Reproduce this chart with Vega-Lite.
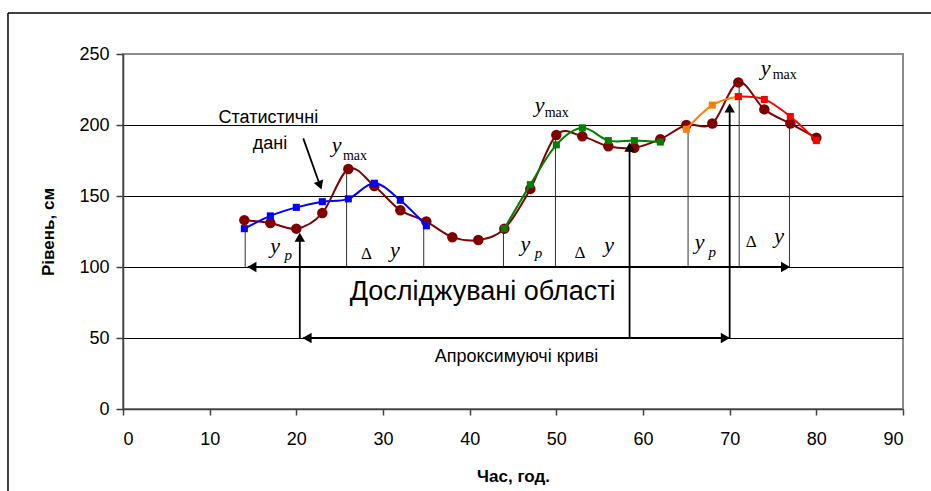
{
  "$schema": "https://vega.github.io/schema/vega-lite/v6.json",
  "width": 780,
  "height": 355,
  "autosize": {"type": "none"},
  "padding": {"left": 123, "top": 54, "right": 28, "bottom": 82},
  "background": "white",
  "config": {"view": {"stroke": "#8c8c8c", "strokeWidth": 2}, "font": "Liberation Sans"},
  "datasets": {
    "series": [
      {"x": 14, "y": 133, "s": "stat"}, {"x": 17, "y": 131, "s": "stat"}, {"x": 20, "y": 127, "s": "stat"},
      {"x": 23, "y": 138, "s": "stat"}, {"x": 26, "y": 169, "s": "stat"}, {"x": 29, "y": 157, "s": "stat"},
      {"x": 32, "y": 140, "s": "stat"}, {"x": 35, "y": 132, "s": "stat"}, {"x": 38, "y": 121, "s": "stat"},
      {"x": 41, "y": 119, "s": "stat"}, {"x": 44, "y": 127, "s": "stat"}, {"x": 47, "y": 155, "s": "stat"},
      {"x": 50, "y": 193, "s": "stat"}, {"x": 53, "y": 192, "s": "stat"}, {"x": 56, "y": 185, "s": "stat"},
      {"x": 59, "y": 184, "s": "stat"}, {"x": 62, "y": 190, "s": "stat"}, {"x": 65, "y": 200, "s": "stat"},
      {"x": 68, "y": 201, "s": "stat"}, {"x": 71, "y": 230, "s": "stat"}, {"x": 74, "y": 211, "s": "stat"},
      {"x": 77, "y": 201, "s": "stat"}, {"x": 80, "y": 191, "s": "stat"},
      {"x": 14, "y": 127, "s": "blue"}, {"x": 17, "y": 136, "s": "blue"}, {"x": 20, "y": 142, "s": "blue"},
      {"x": 23, "y": 146, "s": "blue"}, {"x": 26, "y": 148, "s": "blue"}, {"x": 29, "y": 159, "s": "blue"},
      {"x": 32, "y": 147, "s": "blue"}, {"x": 35, "y": 129, "s": "blue"},
      {"x": 44, "y": 127, "s": "green"}, {"x": 47, "y": 158, "s": "green"}, {"x": 50, "y": 186, "s": "green"},
      {"x": 53, "y": 198, "s": "green"}, {"x": 56, "y": 189, "s": "green"}, {"x": 59, "y": 189, "s": "green"},
      {"x": 62, "y": 188, "s": "green"},
      {"x": 65, "y": 197, "s": "orange"}, {"x": 68, "y": 214, "s": "orange"}, {"x": 71, "y": 220, "s": "orange"},
      {"x": 71, "y": 220, "s": "red"}, {"x": 74, "y": 218, "s": "red"}, {"x": 77, "y": 206, "s": "red"},
      {"x": 80, "y": 189, "s": "red"}
    ],
    "thin": [
      {"x": 14.1, "y": 127, "x2": 14.1, "y2": 100},
      {"x": 25.8, "y": 169, "x2": 25.8, "y2": 100},
      {"x": 34.7, "y": 130, "x2": 34.7, "y2": 100},
      {"x": 43.9, "y": 127, "x2": 43.9, "y2": 100},
      {"x": 49.9, "y": 193, "x2": 49.9, "y2": 100},
      {"x": 65.2, "y": 200, "x2": 65.2, "y2": 100},
      {"x": 71.1, "y": 230, "x2": 71.1, "y2": 100},
      {"x": 76.9, "y": 201, "x2": 76.9, "y2": 100}
    ],
    "shafts": [
      {"x": 14.4, "y": 100, "x2": 76.8, "y2": 100},
      {"x": 20.8, "y": 50, "x2": 69.9, "y2": 50},
      {"x": 20.4, "y": 50, "x2": 20.4, "y2": 119},
      {"x": 58.45, "y": 50, "x2": 58.45, "y2": 182},
      {"x": 70.0, "y": 50, "x2": 70.0, "y2": 210},
      {"x": 20.8, "y": 190.6, "x2": 22.57, "y2": 160.2}
    ],
    "heads": [
      {"x": 14.87, "y": 100, "dir": "left"},
      {"x": 76.45, "y": 100, "dir": "right"},
      {"x": 21.24, "y": 50, "dir": "left"},
      {"x": 69.5, "y": 50, "dir": "right"},
      {"x": 20.4, "y": 121, "dir": "up"},
      {"x": 58.45, "y": 184.4, "dir": "up"},
      {"x": 70.0, "y": 212, "dir": "up"}
    ],
    "diag": [{"x": 22.73, "y": 157.5}],
    "frame": [
      {"x": -13.27, "y": 278.9, "x2": 95, "y2": 278.9},
      {"x": -13.27, "y": 278.9, "x2": -13.27, "y2": -60}
    ],
    "labels": [
      {"x": 16.77, "y": 201.6, "text": "Статистичні", "kind": "sans"},
      {"x": 16.96, "y": 182.9, "text": "дані", "kind": "sans"},
      {"x": 45.4, "y": 33.3, "text": "Апроксимуючі криві", "kind": "sans"},
      {"x": 41.5, "y": 76.8, "text": "Досліджувані області", "kind": "big"},
      {"x": 24.66, "y": 181, "text": "y", "kind": "ital"},
      {"x": 26.77, "y": 175.4, "text": "max", "kind": "sub"},
      {"x": 48.06, "y": 209.4, "text": "y", "kind": "ital"},
      {"x": 50.04, "y": 205.8, "text": "max", "kind": "sub"},
      {"x": 74.16, "y": 235.2, "text": "y", "kind": "ital"},
      {"x": 76.35, "y": 232.2, "text": "max", "kind": "sub"},
      {"x": 17.54, "y": 109.6, "text": "y", "kind": "ital"},
      {"x": 19.07, "y": 104.9, "text": "p", "kind": "subi"},
      {"x": 46.44, "y": 111.3, "text": "y", "kind": "ital"},
      {"x": 47.94, "y": 106.1, "text": "p", "kind": "subi"},
      {"x": 66.54, "y": 112.5, "text": "y", "kind": "ital"},
      {"x": 68.0, "y": 107.3, "text": "p", "kind": "subi"},
      {"x": 28.1, "y": 105.4, "text": "Δ", "kind": "delta"},
      {"x": 31.38, "y": 106.8, "text": "y", "kind": "ital"},
      {"x": 52.73, "y": 106.5, "text": "Δ", "kind": "delta"},
      {"x": 56.1, "y": 110.4, "text": "y", "kind": "ital"},
      {"x": 72.5, "y": 113.9, "text": "Δ", "kind": "delta"},
      {"x": 75.7, "y": 116.7, "text": "y", "kind": "ital"}
    ]
  },
  "encoding": {
    "x": {
      "field": "x", "type": "quantitative",
      "scale": {"domain": [0, 90], "nice": false, "zero": false},
      "axis": {
        "values": [0, 10, 20, 30, 40, 50, 60, 70, 80, 90],
        "grid": false,
        "labelFontSize": 18, "labelColor": "black", "labelPadding": 15,
        "tickColor": "#404040", "tickSize": 6, "tickWidth": 1.5,
        "domainColor": "#404040", "domainWidth": 1.5,
        "title": "Час, год.", "titleFontSize": 17, "titleFontWeight": "bold", "titleColor": "black",
        "titleX": 390, "titleY": 67, "titleBaseline": "middle", "titleAlign": "center"
      }
    },
    "y": {
      "field": "y", "type": "quantitative",
      "scale": {"domain": [0, 250], "nice": false, "zero": false},
      "axis": {
        "values": [0, 50, 100, 150, 200, 250],
        "grid": true,
        "gridColor": {"condition": {"test": "datum.value === 250 || datum.value === 0", "value": "transparent"}, "value": "black"},
        "gridWidth": 1,
        "labelFontSize": 18, "labelColor": "black", "labelPadding": 7,
        "tickColor": "#404040", "tickSize": 7, "tickWidth": 1.5,
        "domainColor": "#404040", "domainWidth": 1.5,
        "title": "Рівень, см", "titleFontSize": 17, "titleFontWeight": "bold", "titleColor": "black",
        "titleX": -75, "titleY": 177.5, "titleAngle": -90, "titleBaseline": "middle", "titleAlign": "center"
      }
    }
  },
  "layer": [
    {
      "data": {"name": "frame"},
      "mark": {"type": "rule", "color": "black", "strokeWidth": 1.5, "clip": false},
      "encoding": {"x2": {"field": "x2"}, "y2": {"field": "y2"}}
    },
    {
      "data": {"name": "thin"},
      "mark": {"type": "rule", "color": "#333333", "strokeWidth": 1},
      "encoding": {"x2": {"field": "x2"}, "y2": {"field": "y2"}}
    },
    {
      "data": {"name": "series"},
      "transform": [{"filter": "datum.s === 'stat'"}],
      "mark": {"type": "line", "color": "#800000", "strokeWidth": 2, "interpolate": "cardinal"},
      "encoding": {}
    },
    {
      "data": {"name": "series"},
      "transform": [{"filter": "datum.s === 'stat'"}],
      "mark": {"type": "point", "shape": "circle", "filled": true, "color": "#800000", "size": 110, "opacity": 1},
      "encoding": {}
    },
    {
      "data": {"name": "series"},
      "transform": [{"filter": "datum.s !== 'stat'"}],
      "mark": {"type": "line", "strokeWidth": 2, "interpolate": "cardinal"},
      "encoding": {
        "color": {"field": "s", "type": "nominal", "scale": {"domain": ["blue", "green", "orange", "red"], "range": ["#0000ff", "#008000", "#ff8000", "#ff0000"]}, "legend": null}
      }
    },
    {
      "data": {"name": "series"},
      "transform": [{"filter": "datum.s !== 'stat'"}],
      "mark": {"type": "point", "shape": "square", "filled": true, "size": 50, "opacity": 1},
      "encoding": {
        "color": {"field": "s", "type": "nominal", "scale": {"domain": ["blue", "green", "orange", "red"], "range": ["#0000ff", "#008000", "#ff8000", "#ff0000"]}, "legend": null}
      }
    },
    {
      "data": {"name": "shafts"},
      "mark": {"type": "rule", "color": "black", "strokeWidth": 1.8},
      "encoding": {"x2": {"field": "x2"}, "y2": {"field": "y2"}}
    },
    {
      "data": {"name": "heads"},
      "mark": {"type": "point", "filled": true, "color": "black", "size": 110, "opacity": 1},
      "encoding": {
        "shape": {"field": "dir", "type": "nominal", "scale": {"domain": ["left", "right", "up"], "range": ["triangle-left", "triangle-right", "triangle-up"]}, "legend": null}
      }
    },
    {
      "data": {"name": "diag"},
      "mark": {"type": "point", "shape": "triangle-up", "filled": true, "color": "black", "size": 100, "angle": 160, "opacity": 1},
      "encoding": {}
    },
    {
      "data": {"name": "labels"},
      "transform": [{"filter": "datum.kind === 'sans'"}],
      "mark": {"type": "text", "font": "Liberation Sans", "fontSize": 18, "color": "black", "align": "center", "baseline": "alphabetic"},
      "encoding": {"text": {"field": "text"}}
    },
    {
      "data": {"name": "labels"},
      "transform": [{"filter": "datum.kind === 'big'"}],
      "mark": {"type": "text", "font": "Liberation Sans", "fontSize": 27, "color": "black", "align": "center", "baseline": "alphabetic"},
      "encoding": {"text": {"field": "text"}}
    },
    {
      "data": {"name": "labels"},
      "transform": [{"filter": "datum.kind === 'ital'"}],
      "mark": {"type": "text", "font": "Liberation Serif", "fontSize": 22, "fontStyle": "italic", "color": "black", "align": "center", "baseline": "alphabetic"},
      "encoding": {"text": {"field": "text"}}
    },
    {
      "data": {"name": "labels"},
      "transform": [{"filter": "datum.kind === 'sub'"}],
      "mark": {"type": "text", "font": "Liberation Serif", "fontSize": 14, "color": "black", "align": "center", "baseline": "alphabetic"},
      "encoding": {"text": {"field": "text"}}
    },
    {
      "data": {"name": "labels"},
      "transform": [{"filter": "datum.kind === 'subi'"}],
      "mark": {"type": "text", "font": "Liberation Serif", "fontSize": 15, "fontStyle": "italic", "color": "black", "align": "center", "baseline": "alphabetic"},
      "encoding": {"text": {"field": "text"}}
    },
    {
      "data": {"name": "labels"},
      "transform": [{"filter": "datum.kind === 'delta'"}],
      "mark": {"type": "text", "font": "Liberation Serif", "fontSize": 17, "color": "black", "align": "center", "baseline": "alphabetic"},
      "encoding": {"text": {"field": "text"}}
    }
  ]
}
